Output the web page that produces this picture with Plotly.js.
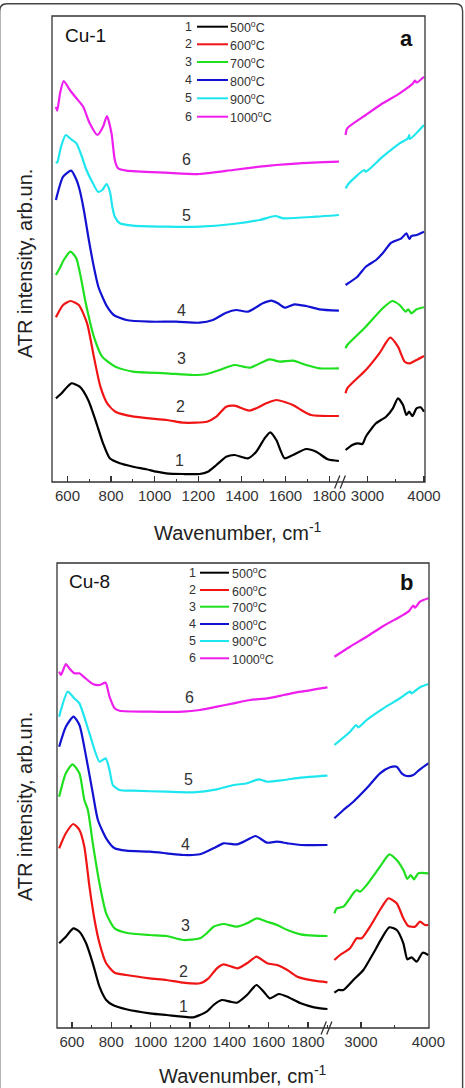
<!DOCTYPE html>
<html>
<head>
<meta charset="utf-8">
<script src="https://cdn.plot.ly/plotly-3.0.1.min.js"></script>
<style>
  html, body { margin: 0; padding: 0; background: #fff; }
  #chart { width: 465px; height: 1088px; }
</style>
</head>
<body>
<div id="chart"></div>
<script>
// ATR spectra of Cu-1 and Cu-8 samples annealed at 500-1000 °C (stacked, arb. units)
const temperatures = ['500', '600', '700', '800', '900', '1000'];
const seriesColors = ['#000000', '#f01414', '#1ee01e', '#1212d2', '#1ee6ee', '#ee1eee'];

// ---- Cu-1: low-wavenumber region (cm-1) / intensity ----
const cu1_500_lowWn = [547,573,590,618,656,695,733,763,794,840,901,962,1008,1053,1130,1206,1244,1283,1328,1366,1427,1466,1504,1530,1558,1596,1634,1695,1741,1794,1845];
const cu1_500_lowI  = [83.7,88.7,93,98.7,95.3,82,58.7,38.7,23.7,18.7,15.3,12.7,10.3,8.7,8,8,10.3,17,25.3,27,23.7,30.3,43.7,49.7,42,23.7,27,33,30.3,22.7,21];
const cu1_600_lowWn = [547,580,614,652,690,721,751,782,820,904,1057,1133,1240,1283,1328,1366,1435,1512,1558,1634,1672,1718,1845];
const cu1_600_lowI  = [164.7,177,181,177,158.7,125.3,95.3,78.7,70.3,65.3,62,59.3,60.3,65.3,75.3,76.3,71.3,78.7,82,77,72,67,66];
const cu1_700_lowWn = [547,565,583,614,640,660,684,721,759,820,901,1053,1175,1240,1298,1366,1435,1527,1573,1634,1695,1756,1845];
const cu1_700_lowI  = [207,214,222,230.3,224,206,178.7,145.3,125.3,115.3,110.3,108.7,107,108,112,117,114.3,122.7,120.3,121.3,117,113.7,113.7];
const cu1_800_lowWn = [547,580,617,640,656,675,698,721,742,760,782,812,870,977,1099,1206,1267,1328,1374,1427,1496,1535,1565,1596,1641,1695,1756,1845];
const cu1_800_lowI  = [282,305.3,311.3,302.7,292,272,242,215,195,185.3,175.3,167,162,160.3,160.3,159.3,162,169.3,172,170.3,178.7,181.3,178.7,174.3,177.7,176,172.7,171.3];
const cu1_900_lowWn = [547,553,570,592,615,641,665,687,713,740,760,779,795,806,817,840,901,1053,1206,1359,1481,1554,1588,1741,1845];
const cu1_900_lowI  = [320.3,319.3,335,347,343,338.7,326,312,300.3,290.3,292,298,290,275,265.3,258.7,256.3,255.3,255.3,258,262,266,263.7,265.3,267];
const cu1_1000_lowWn = [547,553,567,583,611,641,672,702,737,763,781,802,817,832,870,1053,1206,1359,1481,1557,1664,1845];
const cu1_1000_lowI  = [375.3,371.3,390,401,392,383.7,375.3,358.7,347,355.3,366,348.7,322,313.7,311.3,309.3,308,312,315.3,317,318.7,320.3];

// ---- Cu-1: high-wavenumber region ----
const cu1_500_highWn = [2611,2731,2820,2910,2970,3150,3329,3449,3539,3629,3689,3737,3796,3868,3940,4000];
const cu1_500_highI  = [32,37,38.7,38,45.3,58.7,65.3,73.7,83.7,77,67,70.3,66,73.7,74.7,70.3];
const cu1_600_highWn = [2611,2641,2970,3210,3401,3539,3659,3749,3868,4000];
const cu1_600_highI  = [88.7,93.7,112,128.7,144.3,135.3,120.3,118.7,122,126];
const cu1_700_highWn = [2611,2641,2970,3269,3437,3569,3677,3719,3778,3868,4000];
const cu1_700_highI  = [133.7,137,155.3,173.7,181,177,170.3,172.7,168.7,172.7,174.7];
const cu1_800_highWn = [2611,2820,2970,3151,3269,3420,3600,3689,3740,3778,3868,4000];
const cu1_800_highI  = [197,205.3,215.3,222,228.7,239.3,243.7,248.7,243,246,247,250.3];
const cu1_900_highWn = [2611,2671,2940,2970,3269,3569,3719,3737,3749,4000];
const cu1_900_highI  = [293.7,298.7,312,310.3,325.3,338.7,343.7,347,343,357];
const cu1_1000_highWn = [2611,2641,2970,3269,3569,3808,3839,3870,4000];
const cu1_1000_highI  = [347,353.7,367,378.7,388.7,398.7,401.5,399.5,405.3];

// ---- Cu-8: low-wavenumber region ----
const cu8_500_lowWn = [535,569,607,638,672,706,740,774,808,876,996,1081,1217,1251,1285,1320,1362,1405,1439,1490,1538,1575,1606,1652,1695,1763,1831,1899];
const cu8_500_lowI  = [84.7,91.3,99.7,96.3,84.7,64.7,41.3,28,23,18.7,14.7,13,10.7,13,16.3,23,28,26.3,25.3,33,43,36.3,29.7,34,31.3,24.7,20.7,19];
const cu8_600_lowWn = [535,569,607,638,663,689,715,740,774,817,876,996,1081,1166,1251,1294,1337,1371,1443,1490,1538,1592,1643,1695,1746,1831,1899];
const cu8_600_lowI  = [179.7,194.7,204,198,181.3,141.3,108,84.7,64.7,55.3,53,49.7,48,45.3,44.7,49.7,59.7,63.7,59.7,64.7,71.3,64.7,63,58,51.3,47.3,45.7];
const cu8_700_lowWn = [535,569,603,638,663,681,706,740,774,817,876,996,1081,1166,1251,1285,1320,1371,1439,1490,1541,1592,1643,1695,1763,1831,1899];
const cu8_700_lowI  = [231.3,254.7,263.7,254.7,228,218,184.7,144.7,114.7,99.7,95.3,93,92,88,89.7,94.7,101.3,104,101.3,104.7,109.7,106.3,103,98,93.7,92.3,92];
const cu8_800_lowWn = [535,569,608,638,672,706,732,774,817,876,996,1081,1166,1251,1320,1371,1439,1490,1533,1592,1643,1695,1763,1899];
const cu8_800_lowI  = [281.3,301.3,311.3,303,271.3,234.7,208,189.7,179.7,177.3,176.3,174.7,173,173.7,179.7,184.7,183.7,188,192,185.3,186.3,184.7,183,183];
const cu8_900_lowWn = [535,544,578,612,638,689,740,771,791,808,842,910,1081,1217,1337,1422,1490,1550,1592,1678,1763,1899];
const cu8_900_lowI  = [311.3,318,336.3,329.7,324.7,294.7,266.3,269.7,258,243,238,237.3,236.3,235.7,238.7,243,244.7,248.7,246.3,248,250.3,252.3];
const cu8_1000_lowWn = [535,544,569,586,612,638,663,706,740,771,791,817,842,996,1166,1251,1337,1422,1507,1592,1678,1763,1899];
const cu8_1000_lowI  = [356.3,353,364,359.7,354.7,354.7,350.7,344,343,345.3,331.3,319.7,317.3,316.3,316.3,318,321.3,324.7,328,329.7,333,336.3,340.7];

// ---- Cu-8: high-wavenumber region ----
const cu8_500_highWn = [2604,2663,2738,2886,3035,3183,3307,3421,3530,3629,3688,3753,3827,3916,4000];
const cu8_500_highI  = [35.3,38,38,48,58,74.7,89.7,100.7,98,84.7,68.7,70.7,66.3,75.3,73];
const cu8_600_highWn = [2604,2688,2837,2936,3010,3134,3282,3406,3530,3629,3703,3802,3876,3951,4000];
const cu8_600_highI  = [68,73,79.7,89.7,89.7,101.3,118,129.7,124.7,109.7,102,101.3,106.3,103,103];
const cu8_700_highWn = [2604,2639,2738,2886,2936,2985,3084,3282,3421,3530,3629,3688,3738,3787,3852,4000];
const cu8_700_highI  = [114.7,119.7,121.3,134.7,138,136.3,143,161.3,173.7,168,158,149,153,148.7,154.7,154.7];
const cu8_800_highWn = [2604,2738,2886,3084,3282,3431,3530,3604,3678,3777,3876,4000];
const cu8_800_highI  = [209.7,218,226.3,239.7,254.7,260.7,261.3,254.7,252,253,258.7,264.7];
const cu8_900_highWn = [2604,2837,2926,2960,3084,3332,3579,3728,3753,3876,4000];
const cu8_900_highI  = [283,296.3,303,300.7,308,319.7,329.7,336.3,334.7,340.7,344];
const cu8_1000_highWn = [2604,2837,3084,3332,3579,3703,3777,3802,3876,4000];
const cu8_1000_highI  = [371.3,381.3,391.3,402,411.3,416.3,422.3,420.3,426.3,429.7];

// ---- Figure geometry (pixels) ----
const FIG_W = 465, FIG_H = 1088;
const M = { l: 52, r: 36, t: 16, b: 60 };
const PW = FIG_W - M.l - M.r, PH = FIG_H - M.t - M.b;
const fx = p => (p - M.l) / PW;                 // pixel x -> paper x
const fy = p => (FIG_H - M.b - p) / PH;         // pixel y -> paper y

const FONT = 'Liberation Sans, Arial, Helvetica, sans-serif';
const AX = '#333333';

function seg(x, y, color, xa, ya) {
  return {
    x: x, y: y, xaxis: xa, yaxis: ya, type: 'scatter', mode: 'lines',
    line: { color: color, width: 2.2, shape: 'spline', smoothing: 0.6 },
    hoverinfo: 'skip'
  };
}

const cu1Low  = [[cu1_500_lowWn, cu1_500_lowI], [cu1_600_lowWn, cu1_600_lowI], [cu1_700_lowWn, cu1_700_lowI], [cu1_800_lowWn, cu1_800_lowI], [cu1_900_lowWn, cu1_900_lowI], [cu1_1000_lowWn, cu1_1000_lowI]];
const cu1High = [[cu1_500_highWn, cu1_500_highI], [cu1_600_highWn, cu1_600_highI], [cu1_700_highWn, cu1_700_highI], [cu1_800_highWn, cu1_800_highI], [cu1_900_highWn, cu1_900_highI], [cu1_1000_highWn, cu1_1000_highI]];
const cu8Low  = [[cu8_500_lowWn, cu8_500_lowI], [cu8_600_lowWn, cu8_600_lowI], [cu8_700_lowWn, cu8_700_lowI], [cu8_800_lowWn, cu8_800_lowI], [cu8_900_lowWn, cu8_900_lowI], [cu8_1000_lowWn, cu8_1000_lowI]];
const cu8High = [[cu8_500_highWn, cu8_500_highI], [cu8_600_highWn, cu8_600_highI], [cu8_700_highWn, cu8_700_highI], [cu8_800_highWn, cu8_800_highI], [cu8_900_highWn, cu8_900_highI], [cu8_1000_highWn, cu8_1000_highI]];

const traces = [];
for (let i = 0; i < 6; i++) {
  traces.push(seg(cu1Low[i][0],  cu1Low[i][1],  seriesColors[i], 'x',  'y'));
  traces.push(seg(cu1High[i][0], cu1High[i][1], seriesColors[i], 'x2', 'y'));
  traces.push(seg(cu8Low[i][0],  cu8Low[i][1],  seriesColors[i], 'x3', 'y2'));
  traces.push(seg(cu8High[i][0], cu8High[i][1], seriesColors[i], 'x4', 'y2'));
}

function xAxis(domainPx, range, anchor, dtick, minorDtick) {
  return {
    domain: [fx(domainPx[0]), fx(domainPx[1])], range: range, anchor: anchor,
    tickmode: 'linear', tick0: 0, dtick: dtick,
    ticks: 'inside', ticklen: 6, tickwidth: 1.2, tickcolor: AX,
    minor: { tick0: 0, dtick: minorDtick, ticks: 'inside', ticklen: 3.5, tickwidth: 1.2, tickcolor: AX, showgrid: false },
    showline: false, showgrid: false, zeroline: false, fixedrange: true,
    tickfont: { family: FONT, size: 15, color: AX },
    ticklabelstandoff: 3
  };
}
function yAxis(domainPx, range) {
  return {
    domain: [fy(domainPx[0]), fy(domainPx[1])], range: range,
    showticklabels: false, ticks: '', showline: false, showgrid: false, zeroline: false, fixedrange: true
  };
}

const shapes = [];
const annotations = [];

// plot frames
function frame(x0, y0, x1, y1) {
  shapes.push({ type: 'rect', xref: 'paper', yref: 'paper', x0: fx(x0), x1: fx(x1), y0: fy(y1), y1: fy(y0),
    line: { color: AX, width: 1.3 }, fillcolor: 'rgba(0,0,0,0)', layer: 'above' });
}
frame(52, 16, 425, 482);
frame(57, 563, 429, 1028);

// axis break marks
function breakMarks(xc, yb) {
  [-2.8, 2.8].forEach(d => {
    shapes.push({ type: 'line', xref: 'paper', yref: 'paper',
      x0: fx(xc + d - 2.6), y0: fy(yb + 6.5), x1: fx(xc + d + 2.6), y1: fy(yb - 6.5),
      line: { color: AX, width: 1.3 } });
  });
}
breakMarks(340, 482);
breakMarks(326.5, 1028);

// rounded outer border
shapes.push({ type: 'path', xref: 'paper', yref: 'paper',
  path: `M ${fx(-0.3)},${fy(1095)} L ${fx(-0.3)},${fy(11)} Q ${fx(-0.3)},${fy(3.8)} ${fx(7)},${fy(3.8)} ` +
        `L ${fx(455.5)},${fy(3.8)} Q ${fx(462.6)},${fy(3.8)} ${fx(462.6)},${fy(11)} L ${fx(462.6)},${fy(1095)}`,
  line: { color: '#444', width: 1.4 } });

function text(t, xp, yp, opts) {
  annotations.push(Object.assign({
    text: t, xref: 'paper', yref: 'paper', x: fx(xp), y: fy(yp), showarrow: false,
    xanchor: 'center', yanchor: 'middle', font: { family: FONT, size: 15, color: AX }
  }, opts || {}));
}

// legends: number, line sample, temperature
function legend(numRightPx, lineX0, lineX1, textLeftPx, rowYs) {
  for (let i = 0; i < 6; i++) {
    text(String(i + 1), numRightPx, rowYs[i], { xanchor: 'right', font: { family: FONT, size: 12.5, color: AX } });
    shapes.push({ type: 'line', xref: 'paper', yref: 'paper', x0: fx(lineX0), x1: fx(lineX1), y0: fy(rowYs[i]), y1: fy(rowYs[i]),
      line: { color: seriesColors[i], width: 2 } });
    text(temperatures[i] + '<sup>o</sup>C', textLeftPx, rowYs[i] + 0.5, { xanchor: 'left', font: { family: FONT, size: 12.5, color: AX } });
  }
}
legend(194, 197, 228, 228, [26.7, 44.3, 62, 80, 98.3, 116.7]);
legend(198, 200, 229, 229.5, [572.7, 590, 606.7, 624, 641, 658.3]);

// curve numbers
const labelsA = [[179, 460.7], [180, 406.7], [181, 358.3], [181, 310.7], [186, 216], [186, 160]];
const labelsB = [[183.3, 1006.7], [183.3, 971.7], [185.7, 925], [185.7, 844.3], [188.3, 779], [189, 697.7]];
labelsA.forEach((p, i) => text(String(i + 1), p[0], p[1], { font: { family: FONT, size: 16, color: AX } }));
labelsB.forEach((p, i) => text(String(i + 1), p[0], p[1], { font: { family: FONT, size: 16, color: AX } }));

// sample names and panel letters
text('Cu-1', 63, 35, { xanchor: 'left', font: { family: FONT, size: 19, color: '#111' } });
text('<b>a</b>', 406, 39, { font: { family: FONT, size: 22, color: '#111' } });
text('Cu-8', 67, 581.5, { xanchor: 'left', font: { family: FONT, size: 19, color: '#111' } });
text('<b>b</b>', 406, 582, { font: { family: FONT, size: 22, color: '#111' } });

// axis titles
const xTitle = 'Wavenumber, cm<sup>-1</sup>';
const yTitle = 'ATR intensity, arb.un.';
text(xTitle, 238, 532, { font: { family: FONT, size: 20, color: '#222' } });
text(xTitle, 243, 1074.5, { font: { family: FONT, size: 20, color: '#222' } });
text(yTitle, 25, 264, { textangle: -90, font: { family: FONT, size: 20, color: '#222' } });
text(yTitle, 25, 807, { textangle: -90, font: { family: FONT, size: 20, color: '#222' } });

const layout = {
  width: FIG_W, height: FIG_H, autosize: false,
  margin: { l: M.l, r: M.r, t: M.t, b: M.b, pad: 0 },
  paper_bgcolor: '#ffffff', plot_bgcolor: '#ffffff',
  showlegend: false,
  xaxis:  xAxis([52, 340],  [529, 1850],  'y',  200, 100),
  xaxis2: xAxis([343, 425], [2566, 4018], 'y',  1000, 500),
  xaxis3: xAxis([57, 330],  [524, 1912],  'y2', 200, 100),
  xaxis4: xAxis([331, 429], [2554, 4010], 'y2', 1000, 500),
  yaxis:  yAxis([482, 16],   [0, 466]),
  yaxis2: yAxis([1028, 563], [0, 465]),
  shapes: shapes,
  annotations: annotations
};

Plotly.newPlot('chart', traces, layout, { staticPlot: true, displayModeBar: false });
</script>
</body>
</html>
